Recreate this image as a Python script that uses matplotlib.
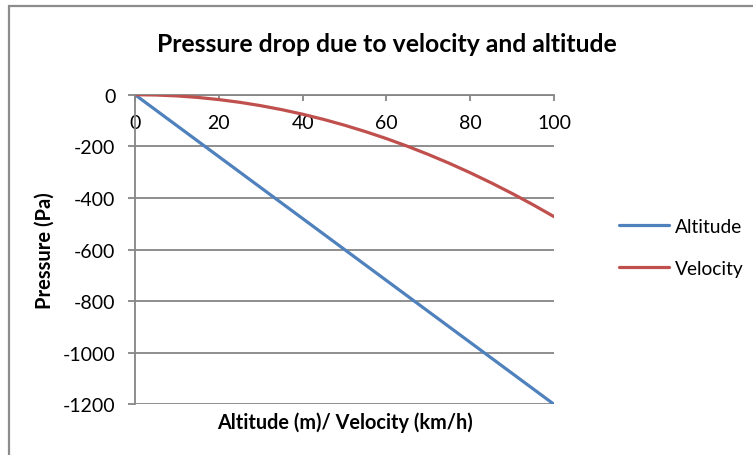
import matplotlib
matplotlib.use("Agg")
import matplotlib.pyplot as plt
from matplotlib.patches import Rectangle

plt.rcParams['font.family'] = ['Lato', 'DejaVu Sans']
plt.rcParams['axes.unicode_minus'] = False

# x values: altitude in m / velocity in km/h
x = [0, 5, 10, 15, 20, 25, 30, 35, 40, 45, 50,
     55, 60, 65, 70, 75, 80, 85, 90, 95, 100]
altitude = [0, -60, -120, -180, -240, -300, -360, -420, -480, -540, -600,
            -660, -720, -780, -840, -900, -960, -1020, -1080, -1140, -1200]
velocity = [0, -1.2, -4.7, -10.6, -18.9, -29.5, -42.5, -57.9, -75.6, -95.7, -118.2,
            -143.0, -170.1, -199.7, -231.6, -265.8, -302.5, -341.5, -382.8, -426.5, -472.6]

xticks = [0, 20, 40, 60, 80, 100]
yticks = [0, -200, -400, -600, -800, -1000, -1200]

grey = '#868686'
W, H = 753, 456

fig = plt.figure(figsize=(W / 100, H / 100), dpi=100)
ax = fig.add_axes([135 / W, 1 - 405.3 / H, 419 / W, 309.6 / H])

ax.plot(x, altitude, color='#4F81BD', lw=2.3, label='Altitude', solid_capstyle='round')
ax.plot(x, velocity, color='#C0504D', lw=2.3, label='Velocity', solid_capstyle='round')

ax.set_xlim(0, 100)
ax.set_ylim(-1200, 0)
ax.set_xticks(xticks)
ax.set_yticks(yticks)

ax.spines['top'].set_visible(False)
ax.spines['right'].set_visible(False)
ax.spines['bottom'].set_position(('data', 0))
ax.spines['bottom'].set_color(grey)
ax.spines['left'].set_color(grey)
ax.spines['bottom'].set_linewidth(1.3)
ax.spines['left'].set_linewidth(1.3)
ax.spines['bottom'].set_zorder(1)

ax.yaxis.grid(True, color=grey, lw=1.3)
ax.set_axisbelow(True)

ax.tick_params(axis='x', direction='out', length=4, width=1.3, color=grey,
               labelsize=14, pad=10)
ax.tick_params(axis='y', direction='out', length=5, width=1.3, color=grey,
               labelsize=14, pad=9)

ax.set_xlabel('Altitude (m)/ Velocity (km/h)', fontsize=14.3, fontweight='bold')
ax.xaxis.label.set_va('center')
ax.xaxis.set_label_coords(0.5, -17.7 / 309.6)
ax.set_ylabel('Pressure (Pa)', fontsize=14.5, fontweight='bold')
ax.yaxis.label.set_va('center')
ax.yaxis.set_label_coords(-90 / 419, 0.5)

fig.text(386.6 / W, 1 - 44 / H, 'Pressure drop due to velocity and altitude',
         ha='center', va='center', fontsize=17.8, fontweight='bold')

ax.legend(loc='center left', bbox_to_anchor=(619 / W, 1 - 248.5 / H),
          bbox_transform=fig.transFigure, frameon=False, fontsize=13.8,
          handlelength=2.6, handletextpad=0.3, labelspacing=1.3,
          borderpad=0, borderaxespad=0)

# outer chart border, running off the right and bottom edges
fig.patches.append(Rectangle((8.5 / W, -0.1), 1.2, 1 - 7 / H + 0.1,
                             transform=fig.transFigure, fill=False,
                             edgecolor='#8c8c8c', lw=1.6))

fig.savefig('out.png', dpi=100)
